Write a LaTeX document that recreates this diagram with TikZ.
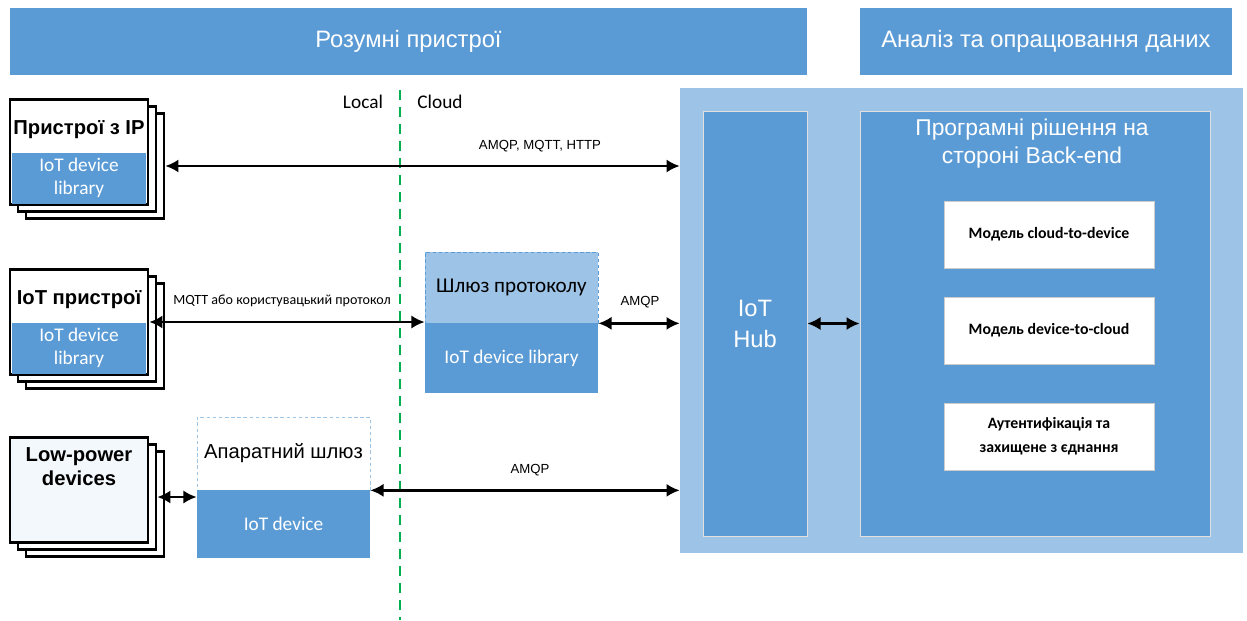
\documentclass[tikz,border=0pt]{standalone}
\usepackage{fontspec}
\setmainfont{Liberation Sans}
\newfontfamily\calibri{Carlito}
\usetikzlibrary{arrows.meta}
\definecolor{midblue}{HTML}{5B9BD5}
\definecolor{paleblue}{HTML}{9DC3E6}
\definecolor{ghost}{HTML}{F3F8FC}
\definecolor{divgreen}{HTML}{00B050}
\begin{document}
\begin{tikzpicture}[x=0.02cm, y=-0.02cm,
	banner/.style={fill=midblue, text=white, inner sep=0pt, minimum width=#1, minimum height=1.34cm, font=\fontsize{13.5}{16}\selectfont},
	layer/.style={draw=black, line width=1.5pt, fill=white, minimum width=2.76cm, minimum height=2.1cm, inner sep=0pt},
	lib/.style={fill=midblue, text=white, minimum width=2.7cm, minimum height=1.02cm, inner sep=0pt, align=center, font=\calibri\fontsize{11}{13}\selectfont},
	ttl/.style={font=\bfseries\fontsize{11.5}{13.6}\selectfont, align=center},
	model/.style={fill=white, draw=black!20, minimum width=4.2cm, minimum height=1.34cm, inner sep=0pt, align=center, font=\calibri\bfseries\fontsize{9}{13.6}\selectfont},
	darr/.style={{Latex[length=7.5pt,width=7.5pt]}-{Latex[length=7.5pt,width=7.5pt]}, line width=1.4pt},
	lbl/.style={font=\fontsize{7.5}{9}\selectfont},
	]
	\useasboundingbox (0,0) rectangle (1247,620);
	% banners
	\node[banner=15.94cm] (smart) at (408.5,41.5) {Розумні пристрої};
	\node[banner=7.44cm] (analysis) at (1046,41.5) {Аналіз та опрацювання даних};
	% local / cloud divider
	\coordinate (divtop) at (400,90);
	\coordinate (divbot) at (400,620);
	\draw[divgreen, line width=1.1pt, dash pattern=on 0.2cm off 0.14cm] (divtop) -- (divbot);
	\node[font=\calibri\fontsize{11}{13}\selectfont] (local) at (363,102) {Local};
	\node[font=\calibri\fontsize{11}{13}\selectfont] (cloud) at (440,102) {Cloud};
	% cloud side
	\node[fill=paleblue, minimum width=11.26cm, minimum height=9.3cm] (panel) at (961.5,320.5) {};
	\node[fill=midblue, draw=black!12, text=white, minimum width=2.08cm, minimum height=8.5cm, align=center, font=\fontsize{13.5}{17.6}\selectfont] (hub) at (755,323.5) {IoT\\Hub};
	\node[fill=midblue, draw=black!12, minimum width=7cm, minimum height=8.5cm] (be) at (1035,323.5) {};
	\node[text=white, align=center, font=\fontsize{13}{16}\selectfont] (betitle) at (1032,144) {Програмні рішення на\\стороні Back-end};
	\node[model] (c2d) at (1049,234.5) {Модель cloud-to-device};
	\node[model] (d2c) at (1049,330.5) {Модель device-to-cloud};
	\node[model] (auth) at (1049,436.5) {Аутентифікація та\\захищене з єднання};
	% IP devices
	\begin{scope}[shift={(79,152)}]
		\node[layer] (ip3) at (16,14) {};
		\node[layer] (ip2) at (8,7) {};
		\node[layer] (ip1) at (0,0) {};
		\node[lib] (lib1) at (0,26) {IoT device\\library};
		\node[ttl] (ipttl) at (0,-22) {Пристрої з IP};
	\end{scope}
	% IoT devices
	\begin{scope}[shift={(79,322)}]
		\node[layer] (iot3) at (16,14) {};
		\node[layer] (iot2) at (8,7) {};
		\node[layer] (iot1) at (0,0) {};
		\node[lib] (lib2) at (0,26) {IoT device\\library};
		\node[ttl] (iotttl) at (0,-22) {IoT пристрої};
	\end{scope}
	% low-power devices
	\begin{scope}[shift={(79,490)}]
		\node[layer] (low3) at (16,14) {};
		\node[layer] (low2) at (8,7) {};
		\node[layer, fill=ghost] (low1) at (0,0) {};
		\node[ttl] (lowttl) at (0,-23) {Low-power\\devices};
	\end{scope}
	% protocol gateway
	\node[fill=paleblue, draw=midblue, dash pattern=on 2pt off 1.5pt, minimum width=3.46cm, minimum height=1.42cm, font=\calibri\fontsize{12}{14}\selectfont] (gwtop) at (511.5,287.5) {Шлюз протоколу};
	\node[lib, minimum width=3.46cm, minimum height=1.4cm] (gwlib) at (511.5,358) {IoT device library};
	% hardware gateway
	\node[fill=white, draw=paleblue, dash pattern=on 2pt off 1.5pt, minimum width=3.46cm, minimum height=1.46cm, font=\fontsize{11.5}{14}\selectfont] (hwtop) at (283.5,453.5) {Апаратний шлюз};
	\node[lib, minimum width=3.46cm, minimum height=1.36cm] (hwdev) at (283.5,524) {IoT device};
	% connections
	\draw[darr] (ip3.east) -- (ip3.east -| panel.west);
	\node[lbl] (l1) at (540,146) {AMQP, MQTT, HTTP};
	\draw[darr] (iot1.east) -- (iot1.east -| gwtop.west);
	\node[lbl, font=\calibri\fontsize{8}{9}\selectfont] (l2) at (282,301) {MQTT або користувацький протокол};
	\draw[darr] (gwtop.south east) -- (gwtop.south east -| panel.west);
	\node[lbl] (l3) at (640,302) {AMQP};
	\draw[darr] (low2.east) -- (low2.east -| hwdev.west);
	\draw[darr] (hwtop.south east) -- (hwtop.south east -| panel.west);
	\node[lbl] (l4) at (530,470) {AMQP};
	\draw[darr] (hub.east) -- (be.west);
\end{tikzpicture}
\end{document}
